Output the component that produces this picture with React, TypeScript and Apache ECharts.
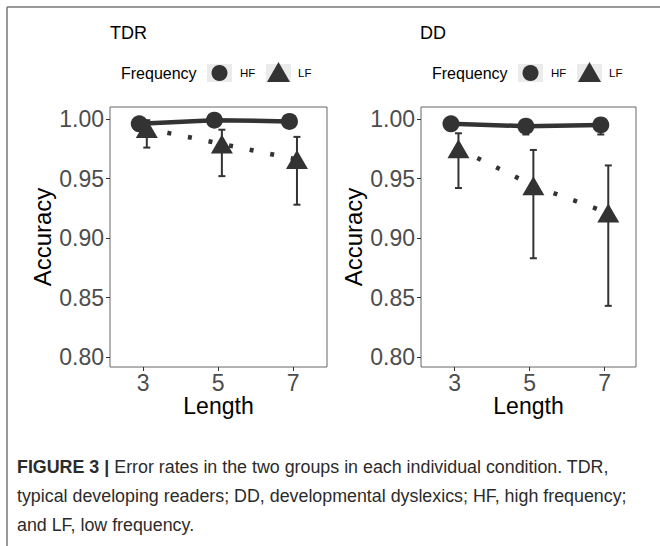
import React, { useEffect, useRef } from "react";
import * as echarts from "echarts";

// ---- data ----
const lengths = [3, 5, 7];
const yTicks = [0.8, 0.85, 0.9, 0.95, 1.0];
const xTicks = [3, 5, 7];

const tdrHF = [0.996, 0.999, 0.998];
const tdrHFLo = [0.993, 0.998, 0.997];
const tdrHFHi = [0.999, 1.0, 0.999];
const tdrLF = [0.992, 0.979, 0.966];
const tdrLFLo = [0.976, 0.952, 0.928];
const tdrLFHi = [0.999, 0.991, 0.985];

const ddHF = [0.996, 0.994, 0.995];
const ddHFLo = [0.991, 0.987, 0.987];
const ddHFHi = [0.999, 0.999, 0.999];
const ddLF = [0.975, 0.944, 0.921];
const ddLFLo = [0.942, 0.883, 0.843];
const ddLFHi = [0.988, 0.974, 0.961];

const panelTitles = ["TDR", "DD"];
const legendTitle = "Frequency";
const levels = ["HF", "LF"];
const captionLines = [
  "{b|FIGURE 3 |} Error rates in the two groups in each individual condition. TDR,",
  "typical developing readers; DD, developmental dyslexics; HF, high frequency;",
  "and LF, low frequency.",
];

const INK = "#333333";
const FONT = "Liberation Sans, Arial, sans-serif";

function errorBarRender(params: any, api: any) {
  const x = api.value(0);
  const lo = api.coord([x, api.value(1)]);
  const hi = api.coord([x, api.value(2)]);
  const w = 3.5;
  const st = { stroke: INK, lineWidth: 2 };
  return {
    type: "group",
    children: [
      { type: "line", shape: { x1: lo[0], y1: lo[1], x2: hi[0], y2: hi[1] }, style: st },
      { type: "line", shape: { x1: lo[0] - w, y1: lo[1], x2: lo[0] + w, y2: lo[1] }, style: st },
      { type: "line", shape: { x1: hi[0] - w, y1: hi[1], x2: hi[0] + w, y2: hi[1] }, style: st },
    ],
  };
}

function buildPanelSeries(idx: number, hf: number[], hfLo: number[], hfHi: number[], lf: number[], lfLo: number[], lfHi: number[]) {
  const dodge = 0.1;
  const hfX = lengths.map((l) => l - dodge);
  const lfX = lengths.map((l) => l + dodge);
  return [
    {
      type: "custom",
      xAxisIndex: idx,
      yAxisIndex: idx,
      renderItem: errorBarRender,
      encode: { x: 0, y: [1, 2] },
      data: lfX.map((x, i) => [x, lfLo[i], lfHi[i]]),
      z: 2,
    },
    {
      type: "custom",
      xAxisIndex: idx,
      yAxisIndex: idx,
      renderItem: errorBarRender,
      encode: { x: 0, y: [1, 2] },
      data: hfX.map((x, i) => [x, hfLo[i], hfHi[i]]),
      z: 2,
    },
    {
      type: "line",
      name: "LF",
      xAxisIndex: idx,
      yAxisIndex: idx,
      data: lfX.map((x, i) => [x, lf[i]]),
      symbol: "triangle",
      symbolSize: [22, 19],
      itemStyle: { color: INK },
      lineStyle: { color: INK, width: 4.5, type: [4, 17], cap: "butt" },
      z: 3,
    },
    {
      type: "line",
      name: "HF",
      xAxisIndex: idx,
      yAxisIndex: idx,
      data: hfX.map((x, i) => [x, hf[i]]),
      symbol: "circle",
      symbolSize: 17,
      itemStyle: { color: INK },
      lineStyle: { color: INK, width: 4.5 },
      z: 4,
    },
  ];
}

function legendGraphics(dx: number) {
  return [
    { type: "text", x: 121 + dx, y: 73, style: { text: legendTitle, font: `16px ${FONT}`, fill: "#000", verticalAlign: "middle" } },
    { type: "rect", shape: { x: 207 + dx, y: 64, width: 25, height: 18 }, style: { fill: "#ebebeb" } },
    { type: "circle", shape: { cx: 219.5 + dx, cy: 73, r: 8 }, style: { fill: INK } },
    { type: "text", x: 240 + dx, y: 73, style: { text: levels[0], font: `11.5px ${FONT}`, fill: "#000", verticalAlign: "middle" } },
    { type: "rect", shape: { x: 266 + dx, y: 64, width: 25, height: 18 }, style: { fill: "#ebebeb" } },
    { type: "polygon", shape: { points: [[278.5 + dx, 62], [267 + dx, 82], [290 + dx, 82]] }, style: { fill: INK } },
    { type: "text", x: 298 + dx, y: 73, style: { text: levels[1], font: `11.5px ${FONT}`, fill: "#000", verticalAlign: "middle" } },
  ];
}

function xAxis(idx: number, min: number, max: number) {
  return {
    type: "value",
    gridIndex: idx,
    min,
    max,
    name: "Length",
    nameLocation: "middle",
    nameGap: 27,
    nameTextStyle: { fontSize: 23, color: "#000", fontFamily: FONT },
    axisLine: { show: false },
    splitLine: { show: false },
    axisTick: { show: true, length: 4, lineStyle: { color: INK }, customValues: xTicks },
    axisLabel: { fontSize: 23, color: "#4d4d4d", fontFamily: FONT, margin: 4, customValues: xTicks },
  };
}

function yAxis(idx: number) {
  return {
    type: "value",
    gridIndex: idx,
    min: 0.7916,
    max: 1.0101,
    name: "Accuracy",
    nameLocation: "middle",
    nameGap: 56,
    nameTextStyle: { fontSize: 24, color: "#000", fontFamily: FONT },
    axisLine: { show: false },
    splitLine: { show: false },
    axisTick: { show: true, length: 4, lineStyle: { color: INK }, customValues: yTicks },
    axisLabel: {
      fontSize: 23,
      color: "#4d4d4d",
      fontFamily: FONT,
      margin: 6,
      customValues: yTicks,
      formatter: (v: number) => v.toFixed(2),
    },
  };
}

export default function App() {
  const ref = useRef<HTMLDivElement>(null);
  useEffect(() => {
    if (!ref.current) return;
    const chart = echarts.init(ref.current, null, { renderer: "svg" });
    const option: any = {
      animation: false,
      backgroundColor: "#fff",
      grid: [
        { left: 110, top: 107, width: 217, height: 260, show: true, borderColor: "#666", borderWidth: 1, backgroundColor: "transparent" },
        { left: 421, top: 107, width: 215, height: 260, show: true, borderColor: "#666", borderWidth: 1, backgroundColor: "transparent" },
      ],
      xAxis: [xAxis(0, 2.12, 7.9), xAxis(1, 2.1, 7.84)],
      yAxis: [yAxis(0), yAxis(1)],
      series: [
        ...buildPanelSeries(0, tdrHF, tdrHFLo, tdrHFHi, tdrLF, tdrLFLo, tdrLFHi),
        ...buildPanelSeries(1, ddHF, ddHFLo, ddHFHi, ddLF, ddLFLo, ddLFHi),
      ],
      graphic: [
        { type: "line", shape: { x1: 7, y1: 7, x2: 660, y2: 7 }, style: { stroke: "#777", lineWidth: 1.5 } },
        { type: "line", shape: { x1: 7, y1: 7, x2: 7, y2: 546 }, style: { stroke: "#777", lineWidth: 1.5 } },
        { type: "text", x: 110, y: 33, style: { text: panelTitles[0], font: `18px ${FONT}`, fill: "#000", verticalAlign: "middle" } },
        { type: "text", x: 420, y: 33, style: { text: panelTitles[1], font: `18px ${FONT}`, fill: "#000", verticalAlign: "middle" } },
        ...legendGraphics(0),
        ...legendGraphics(311),
        ...captionLines.map((t, i) => ({
          type: "text",
          x: 17,
          y: 467 + i * 29,
          scaleX: 0.965,
          style: {
            text: t,
            font: `18.5px ${FONT}`,
            fill: "#2b2b2b",
            verticalAlign: "middle",
            rich: { b: { fontWeight: "bold", fontSize: 18.5, fontFamily: FONT, fill: "#2b2b2b" } },
          },
        })),
      ],
    };
    chart.setOption(option);
    return () => chart.dispose();
  }, []);
  return <div ref={ref} style={{ position: "fixed", left: 0, top: 0, width: 660, height: 546 }} />;
}
